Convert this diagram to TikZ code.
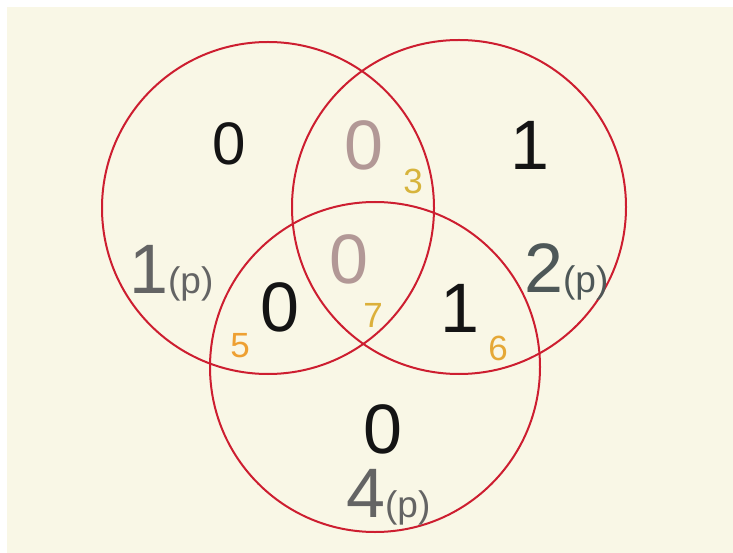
\documentclass[tikz,border=0pt]{standalone}
\usepackage{fontspec}
\setmainfont{Liberation Sans}
\definecolor{cream}{RGB}{249,247,230}
\definecolor{vred}{RGB}{205,30,48}
\definecolor{ink}{RGB}{20,20,20}
\definecolor{rosy}{RGB}{178,152,150}
\definecolor{slate}{RGB}{78,88,88}
\definecolor{mgray}{RGB}{100,100,100}
\definecolor{amber}{RGB}{238,160,50}
\definecolor{ochre}{RGB}{215,180,60}
\newcommand{\bigfs}{\fontsize{70}{70}\selectfont}
\newcommand{\smfs}{\fontsize{37}{37}\selectfont}
\tikzset{
  vc/.style={draw=vred,line width=2pt},
  dg/.style={inner sep=0pt,text=ink,font=\bigfs},
  ix/.style={inner sep=0pt,font=\fontsize{35}{35}\selectfont},
  lb/.style={inner sep=0pt,anchor=base west}}

\begin{document}
\begin{tikzpicture}[x=1pt,y=-1pt]
  \fill[white] (0,0) rectangle (733,553);
  \fill[cream] (7,7) rectangle (733,553);
  \useasboundingbox (0,0) rectangle (733,553);
  % the three sets
  \draw[vc] (268,208) circle[radius=166];
  \draw[vc] (459,207) circle[radius=167];
  \draw[vc] (375,367) circle[radius=165];
  % region values
  \node[dg,font=\fontsize{60}{60}\selectfont] (r1) at (229,144){0};
  \node[dg,text=rosy] (r3) at (364,145){0};
  \node[dg] (r2) at (530,145){1};
  \node[dg,text=rosy] (r7) at (349,259){0};
  \node[dg] (r5) at (280,307){0};
  \node[dg] (r6) at (460,308){1};
  \node[dg] (r4) at (383,429){0};
  % region numbers
  \node[ix,text=ochre] (i3) at (413,181){3};
  \node[ix,text=ochre!80!amber] (i7) at (373,315){7};
  \node[ix,text=amber] (i5) at (240,346){5};
  \node[ix,text=amber!60!ochre] (i6) at (498,348){6};
  % set labels
  \node[lb,text=mgray] (l1) at (129,293){\bigfs 1\smfs(p)};
  \node[lb,text=slate] (l2) at (524,292){\bigfs 2\smfs(p)};
  \node[lb,text=mgray] (l4) at (346,517){\bigfs 4\smfs(p)};
\end{tikzpicture}
\end{document}
